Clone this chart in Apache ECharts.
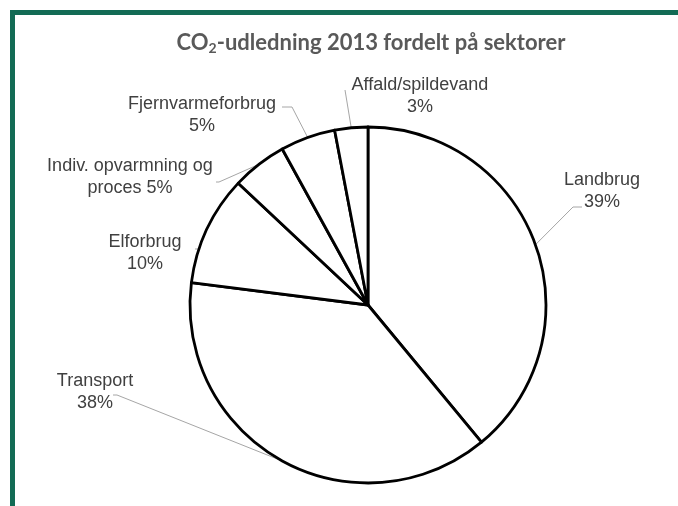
<!DOCTYPE html>
<html>
<head>
<meta charset="utf-8">
<script src="https://cdn.jsdelivr.net/npm/echarts@6/dist/echarts.min.js"></script>
<style>
html,body{margin:0;padding:0;background:#fff;}
#main{width:678px;height:506px;}
</style>
</head>
<body>
<div id="main"></div>
<script>
const categories = ['Landbrug', 'Transport', 'Elforbrug', 'Indiv. opvarmning og proces', 'Fjernvarmeforbrug', 'Affald/spildevand'];
const values = [39, 38, 10, 5, 5, 3];
const titleMain = '-udledning 2013 fordelt på sektorer';

// label layout (positions only): block centres, leader-line end offsets and horizontal tail length
const PIE_CENTER = [368, 305];
const PIE_RADIUS = 178;
const labelCenters = [[602, 191], [95, 392], [145, 253], [130, 177], [202, 115], [420, 96]];
const leaderEnd = [[-20, 16], [18, 3], [50, -4], [86, 5], [80, -8], [-75, -6]];
const leaderTail = [9, 4, 7, 3, 10, 0];

const total = values.reduce((a, b) => a + b, 0);
function midAnglePoint(i) {
  let cum = 0;
  for (let k = 0; k < i; k++) cum += values[k];
  const th = 2 * Math.PI * (cum + values[i] / 2) / total;
  return [PIE_CENTER[0] + PIE_RADIUS * Math.sin(th), PIE_CENTER[1] - PIE_RADIUS * Math.cos(th)];
}

const chart = echarts.init(document.getElementById('main'));
chart.setOption({
  backgroundColor: '#ffffff',
  animation: false,
  graphic: [{
    type: 'rect', shape: { x: 12.5, y: 12.5, width: 700, height: 560 },
    style: { fill: 'none', stroke: '#136b55', lineWidth: 5 }, z: 0
  }],
  title: {
    text: '{a|CO}{s|2}{a|' + titleMain + '}',
    left: 366, textAlign: 'center', top: 25,
    textStyle: {
      rich: {
        a: { fontFamily: 'Lato', fontWeight: 'bold', fontSize: 22, color: '#595959' },
        s: { fontFamily: 'Lato', fontWeight: 'bold', fontSize: 14, color: '#595959', padding: [11, 0, 0, 0] }
      }
    }
  },
  series: [{
    type: 'pie',
    center: PIE_CENTER,
    radius: PIE_RADIUS,
    startAngle: 90,
    clockwise: true,
    data: categories.map((c, i) => ({ name: c, value: values[i] })),
    itemStyle: { color: '#ffffff', borderColor: '#000000', borderWidth: 2.8 },
    emphasis: { disabled: true },
    label: {
      show: true,
      position: 'outside',
      fontFamily: 'Liberation Sans',
      fontSize: 18,
      lineHeight: 22,
      color: '#404040',
      align: 'center',
      formatter: p => p.dataIndex === 3 ? 'Indiv. opvarmning og\nproces ' + p.value + '%' : p.name + '\n' + p.value + '%'
    },
    labelLine: { show: true, length: 15, length2: 10, lineStyle: { color: '#a6a6a6', width: 1 } },
    labelLayout: p => {
      const i = p.dataIndex;
      const c = labelCenters[i];
      const start = midAnglePoint(i);
      const end = [c[0] + leaderEnd[i][0], c[1] + leaderEnd[i][1]];
      const dir = leaderEnd[i][0] > 0 ? 1 : -1;
      const mid = [end[0] + dir * leaderTail[i], end[1]];
      return {
        x: c[0], y: c[1], align: 'center', verticalAlign: 'middle',
        labelLinePoints: [start, mid, end]
      };
    }
  }]
});
</script>
</body>
</html>
